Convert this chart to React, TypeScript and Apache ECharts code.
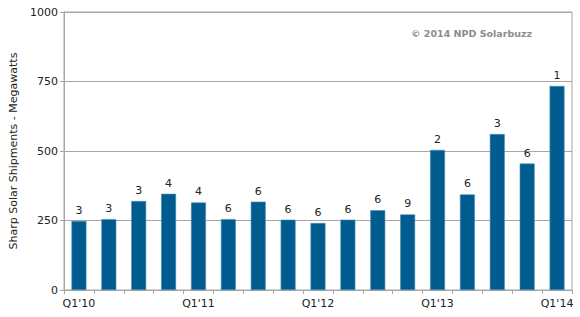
import React, { useEffect, useRef } from "react";
import * as echarts from "echarts";

const categories = ["Q1'10","Q2'10","Q3'10","Q4'10","Q1'11","Q2'11","Q3'11","Q4'11","Q1'12","Q2'12","Q3'12","Q4'12","Q1'13","Q2'13","Q3'13","Q4'13","Q1'14"];
const shipments = [248, 255, 320, 346, 315, 255, 318, 253, 241, 253, 287, 272, 504, 344, 561, 455, 734];
const rankLabels = ["3","3","3","4","4","6","6","6","6","6","6","9","2","6","3","6","1"];
const yTicks = [0, 250, 500, 750, 1000];

export default function App() {
  const ref = useRef<HTMLDivElement>(null);
  useEffect(() => {
    const chart = echarts.init(ref.current!, null, { renderer: "svg" });
    const font = "'DejaVu Sans', Verdana, sans-serif";
    chart.setOption({
      animation: false,
      grid: { left: 63, right: 8, top: 12, bottom: 27, show: true, borderColor: "#a6a6a6", borderWidth: 1 },
      graphic: [
        {
          type: "text",
          left: 411,
          top: 28,
          style: { text: "© 2014 NPD Solarbuzz", fill: "#8c8c8c", font: `bold 9.5px ${font}` },
        },
      ],
      xAxis: {
        type: "category",
        data: categories,
        axisLine: { lineStyle: { color: "#a6a6a6" } },
        axisTick: { show: true, alignWithLabel: false, interval: 0, length: 4, lineStyle: { color: "#a6a6a6" } },
        axisLabel: {
          interval: 0,
          color: "#222",
          fontFamily: font,
          fontSize: 11,
          margin: 8,
          formatter: (v: string, i: number) => (i % 4 === 0 ? v : ""),
        },
      },
      yAxis: {
        type: "value",
        min: 0,
        max: 1000,
        interval: 250,
        name: "Sharp Solar Shipments - Megawatts",
        nameLocation: "middle",
        nameGap: 45,
        nameTextStyle: { color: "#222", fontFamily: font, fontSize: 11 },
        axisLine: { show: true, lineStyle: { color: "#a6a6a6" } },
        axisTick: { show: true, length: 4, lineStyle: { color: "#a6a6a6" } },
        axisLabel: {
          color: "#222",
          fontFamily: font,
          fontSize: 11,
          margin: 6,
          formatter: (v: number) => (yTicks.includes(v) ? String(v) : ""),
        },
        splitLine: { lineStyle: { color: "#a6a6a6" } },
      },
      series: [
        {
          type: "bar",
          data: shipments,
          barWidth: "50%",
          itemStyle: { color: "#005b8e", borderColor: "#4d8db5", borderWidth: 0.6 },
          label: {
            show: true,
            position: "top",
            distance: 5,
            color: "#222",
            fontFamily: font,
            fontSize: 11,
            formatter: (p: any) => rankLabels[p.dataIndex],
          },
        },
      ],
    });
    return () => chart.dispose();
  }, []);
  return <div ref={ref} style={{ width: 580, height: 317, position: "absolute", left: 0, top: 0 }} />;
}
